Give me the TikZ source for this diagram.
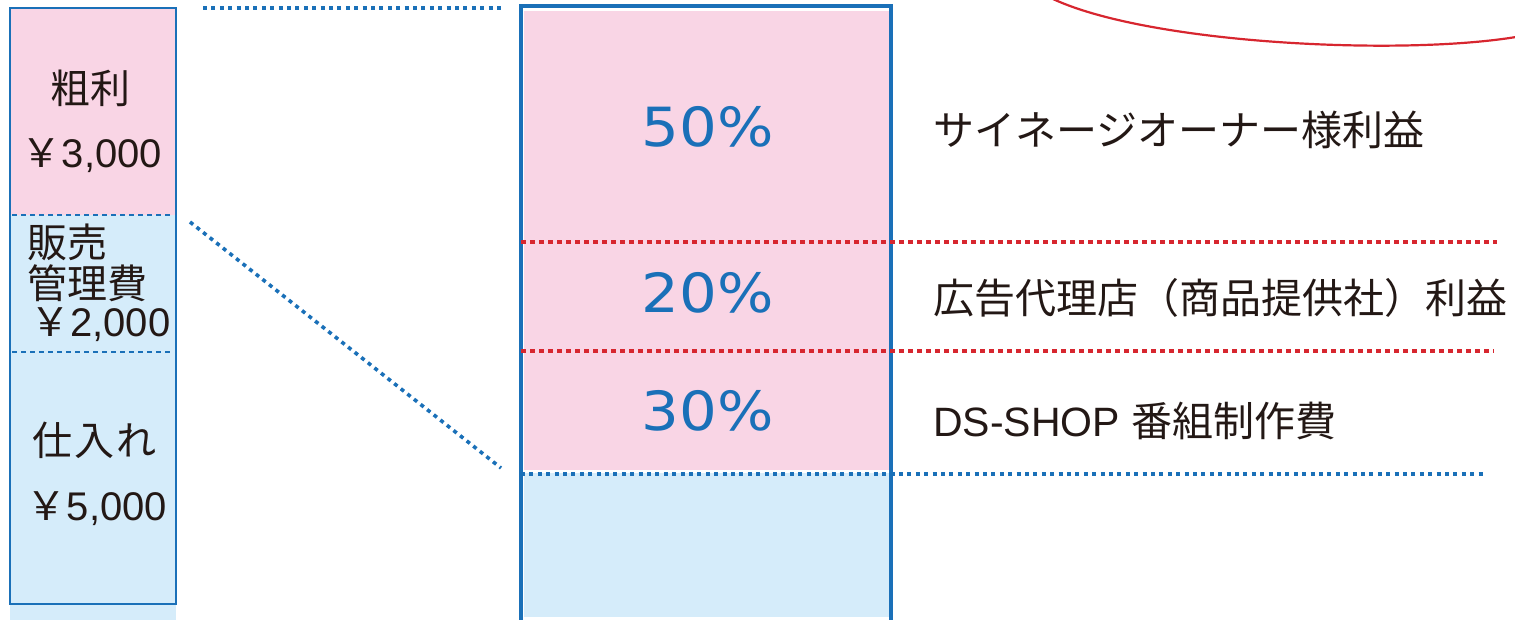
\documentclass[tikz,border=0pt]{standalone}
\usepackage{fontspec}
\setmainfont{Liberation Sans}
\newfontfamily\cjk{Noto Sans CJK JP}
\newfontfamily\pctfont{DejaVu Sans}
\definecolor{pinkfill}{HTML}{F9D5E5}
\definecolor{bluefill}{HTML}{D5ECFA}
\definecolor{lineblue}{HTML}{1A70B8}
\definecolor{linered}{HTML}{D7262F}
\definecolor{txt}{HTML}{231815}
\tikzset{
  lbl/.style={inner sep=0pt, text=txt, font=\fontsize{40}{40}\selectfont},
  rlbl/.style={inner sep=0pt, text=txt, anchor=west, font=\fontsize{41}{41}\selectfont},
  pct/.style={inner sep=0pt, text=lineblue, font=\pctfont\fontsize{54}{54}\selectfont},
  bluedot/.style={draw=lineblue, line width=3.6pt, dash pattern=on 4pt off 4.4pt},
  reddot/.style={draw=linered, line width=3.2pt, dash pattern=on 4.5pt off 4.5pt},
  fine/.style={draw=lineblue, line width=1.5pt, dash pattern=on 5pt off 4pt}
}
\begin{document}
\begin{tikzpicture}[x=1pt,y=-1pt]
\useasboundingbox (0,0) rectangle (1515,620);
% left bar
\fill[bluefill] (10,215) rectangle (176,620);
\fill[pinkfill] (11,9) rectangle (175,215);
\draw[lineblue, line width=1.6pt] (10,8) rectangle (176,604);
\coordinate (la) at (12,215); \coordinate (lb) at (173,215);
\coordinate (lc) at (12,352); \coordinate (ld) at (173,352);
\draw[fine] (la) -- (lb);
\draw[fine] (lc) -- (ld);
\node[lbl] (arari) at (90,88) {\cjk 粗利};
\node[lbl] (y3000) at (92,156) {{\cjk ￥}3,000};
\node[lbl, anchor=west] (hanbai) at (27,242) {\cjk 販売};
\node[lbl, anchor=west] (kanri) at (27,283) {\cjk 管理費};
\node[lbl, anchor=west] (y2000) at (30,325) {{\cjk ￥}2,000};
\node[lbl] (shiire) at (94,440) {\cjk 仕\kern2pt 入\kern2pt れ};
\node[lbl] (y5000) at (97,509) {{\cjk ￥}5,000};
% right bar
\fill[pinkfill] (524,11) rectangle (889,470);
\fill[bluefill] (524,473) rectangle (889,617);
\draw[lineblue, line width=3.5pt] (521,620) -- (521,6) -- (891,6) -- (891,620);
\node[pct] (p50) at (708,127) {\scalebox{1.1}[1]{50\%}};
\node[pct] (p20) at (708,293) {\scalebox{1.1}[1]{20\%}};
\node[pct] (p30) at (708,411) {\scalebox{1.1}[1]{30\%}};
\node[rlbl] (owner) at (933,130) {\cjk サイネージオーナー様利益};
\node[rlbl] (agency) at (933,298) {\cjk 広告代理店（商品提供社）利益};
\node[rlbl] (ds) at (933,421) {DS-SHOP {\cjk 番組制作費}};
% dotted guide lines
\coordinate (t1) at (203,8); \coordinate (t2) at (505,8);
\coordinate (d1) at (190,222); \coordinate (d2) at (501,468);
\coordinate (r1a) at (521,242); \coordinate (r1b) at (1497,242);
\coordinate (r2a) at (521,351); \coordinate (r2b) at (1494,351);
\coordinate (b1a) at (521,474); \coordinate (b1b) at (1486,474);
\draw[bluedot] (t1) -- (t2);
\draw[bluedot] (d1) -- (d2);
\draw[reddot] (r1a) -- (r1b);
\draw[reddot] (r2a) -- (r2b);
\draw[bluedot] (b1a) -- (b1b);
% red curve
\coordinate (c0) at (1053,-1); \coordinate (c3) at (1516,37);
\draw[linered, line width=2.2pt] (c0) .. controls (1150,44) and (1400,56) .. (c3);
\end{tikzpicture}
\end{document}
